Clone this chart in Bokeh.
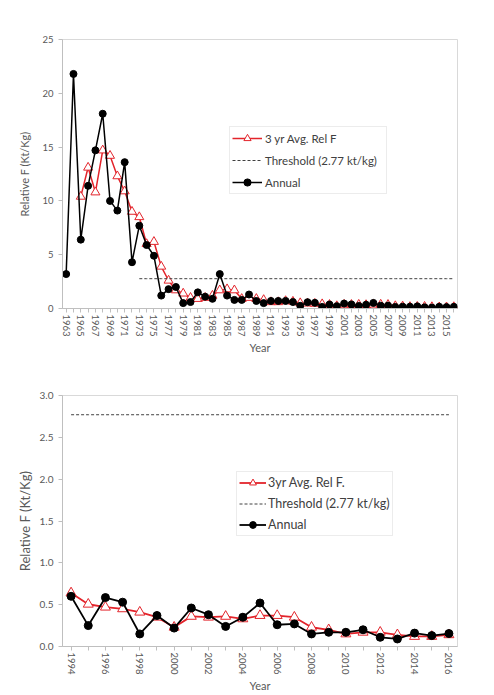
from bokeh.plotting import figure
from bokeh.layouts import column
from bokeh.models import FixedTicker, Legend, LegendItem, Range1d, NumeralTickFormatter
from bokeh.embed import file_html
from bokeh.resources import INLINE

nan = float("nan")

# ---------------- data: full series (top chart) ----------------
years_top = list(range(1963, 2017))
annual_top = [3.2, 21.8, 6.4, 11.4, 14.7, 18.1, 10.0, 9.1, 13.6, 4.3,
              7.7, 5.9, 4.9, 1.2, 1.8, 2.0, 0.5, 0.6, 1.5, 1.1,
              0.9, 3.2, 1.2, 0.8, 0.8, 1.3, 0.7, 0.5, 0.7, 0.7,
              0.7,
              0.60, 0.25, 0.585, 0.53, 0.15, 0.37, 0.22, 0.46, 0.38, 0.24,
              0.35, 0.52, 0.26, 0.27, 0.15, 0.17, 0.17, 0.20, 0.11, 0.09,
              0.16, 0.13, 0.155]
avg_top = [nan, nan, 10.4, 13.1, 10.8, 14.7, 14.2, 12.3, 10.9, 9.0,
           8.5, 6.0, 6.2, 3.9, 2.6, 1.7, 1.4, 1.0, 0.9, 1.0,
           1.2, 1.7, 1.8, 1.7, 0.9, 1.0, 0.9, 0.8, 0.6, 0.6,
           0.7,
           0.64, 0.505, 0.47, 0.45, 0.41, 0.35, 0.23, 0.36, 0.35, 0.36,
           0.33, 0.37, 0.37, 0.35, 0.23, 0.20, 0.15, 0.17, 0.17, 0.14,
           0.12, 0.12, 0.14]
thr_years_top = list(range(1973, 2017))
threshold = 2.77
thr_top = [threshold] * len(thr_years_top)
yticks_top = [0, 5, 10, 15, 20, 25]

# ---------------- data: recent series (bottom chart) ----------------
years_bot = list(range(1994, 2017))
annual_bot = [0.60, 0.25, 0.585, 0.53, 0.15, 0.37, 0.22, 0.46, 0.38, 0.24,
              0.35, 0.52, 0.26, 0.27, 0.15, 0.17, 0.17, 0.20, 0.11, 0.09,
              0.16, 0.13, 0.155]
avg_bot = [0.64, 0.505, 0.47, 0.45, 0.41, 0.35, 0.23, 0.36, 0.35, 0.36,
           0.33, 0.37, 0.37, 0.35, 0.23, 0.20, 0.15, 0.17, 0.17, 0.14,
           0.12, 0.12, 0.14]
thr_bot = [threshold] * len(years_bot)
yticks_bot = [0.0, 0.5, 1.0, 1.5, 2.0, 2.5, 3.0]

RED = "#e3242b"
GRAY_AX = "#bfbfbf"
TXT = "#595959"
FONT = "Lato"


def style(p, tick_fs, label_fs):
    p.grid.visible = False
    p.outline_line_color = "#d9d9d9"
    p.background_fill_color = "white"
    p.border_fill_color = "white"
    for ax in (p.xaxis[0], p.yaxis[0]):
        ax.axis_line_color = GRAY_AX
        ax.major_tick_line_color = GRAY_AX
        ax.minor_tick_line_color = None
        ax.major_tick_in = 0
        ax.major_tick_out = 4
        ax.major_label_text_color = TXT
        ax.major_label_text_font = FONT
        ax.major_label_text_font_size = tick_fs
        ax.axis_label_text_color = TXT
        ax.axis_label_text_font = FONT
        ax.axis_label_text_font_style = "normal"
        ax.axis_label_text_font_size = "11px"
    p.yaxis.axis_label_text_font_size = label_fs
    p.xaxis.major_label_orientation = "vertical"
    p.xaxis.major_label_standoff = 2


def add_series(p, xs, avg, annual, txs, thr, tri_size, circ_size, lw):
    r_avg_l = p.line(xs, avg, line_color=RED, line_width=lw)
    r_avg_s = p.scatter(xs, avg, marker="triangle", size=tri_size,
                        fill_color="white", line_color=RED, line_width=1)
    r_thr = p.line(txs, thr, line_color="#404040", line_width=1, line_dash="3 2")
    r_ann_l = p.line(xs, annual, line_color="black", line_width=lw)
    r_ann_s = p.scatter(xs, annual, marker="circle", size=circ_size,
                        fill_color="black", line_color="black")
    return [r_avg_l, r_avg_s], [r_thr], [r_ann_l, r_ann_s]


def add_legend(p, labels, rends, loc, item_h, spacing, glyph_w, standoff,
               label_w, font_size):
    items = [LegendItem(label=l, renderers=r) for l, r in zip(labels, rends)]
    lg = Legend(items=items, location=loc, orientation="vertical")
    lg.border_line_color = "#d9d9d9"
    lg.background_fill_color = "white"
    lg.background_fill_alpha = 1
    lg.label_text_font = FONT
    lg.label_text_font_size = font_size
    lg.label_text_color = "#404040"
    lg.glyph_width = glyph_w
    lg.glyph_height = item_h
    lg.label_height = item_h
    lg.label_width = label_w
    lg.spacing = spacing
    lg.padding = 2
    lg.margin = 0
    lg.label_standoff = standoff
    p.add_layout(lg)


# ---------------- top chart ----------------
p1 = figure(width=478, height=385, output_backend="svg", toolbar_location=None,
            x_range=Range1d(1962.5, 2016.5), y_range=Range1d(0, 25),
            min_border_left=60, min_border_right=16, min_border_top=39,
            min_border_bottom=77)
style(p1, "9.5px", "11px")
p1.xaxis.ticker = FixedTicker(ticks=years_top)
p1.xaxis.major_label_overrides = {y: (str(y) if (y - 1963) % 2 == 0 else "") for y in years_top}
p1.yaxis.ticker = FixedTicker(ticks=yticks_top)
p1.xaxis.axis_label = "Year"
p1.yaxis.axis_label = "Relative F (Kt/Kg)"
p1.yaxis.axis_label_standoff = 8
p1.xaxis.axis_label_standoff = 1
r1 = add_series(p1, years_top, avg_top, annual_top, thr_years_top, thr_top, 9, 7, 1.5)
add_legend(p1, ["3 yr Avg. Rel F", "Threshold (2.77 kt/kg)", "Annual"], r1,
           (167, 114), 18, 4, 30, 3, 119, "11.5px")

# ---------------- bottom chart ----------------
p2 = figure(width=478, height=310, output_backend="svg", toolbar_location=None,
            x_range=Range1d(1993.5, 2016.5), y_range=Range1d(0, 3),
            min_border_left=62, min_border_right=21, min_border_top=10,
            min_border_bottom=49)
style(p2, "9.5px", "13px")
p2.xaxis.ticker = FixedTicker(ticks=years_bot)
p2.xaxis.major_label_overrides = {y: (str(y) if (y - 1994) % 2 == 0 else "") for y in years_bot}
p2.yaxis.ticker = FixedTicker(ticks=yticks_bot)
p2.yaxis.major_label_text_font_size = "10px"
p2.yaxis.formatter = NumeralTickFormatter(format="0.0")
p2.xaxis.axis_label = "Year"
p2.yaxis.axis_label = "Relative F (Kt/Kg)"
p2.yaxis.axis_label_standoff = 4
p2.xaxis.axis_label_standoff = 1
r2 = add_series(p2, years_bot, avg_bot, annual_bot, years_bot, thr_bot, 10, 8, 1.8)
add_legend(p2, ["3yr Avg. Rel F.", "Threshold (2.77 kt/kg)", "Annual"], r2,
           (174, 110), 17, 4, 27, 2, 122, "12.5px")

layout = column(p1, p2, spacing=0)
open("out.html", "w").write(file_html(layout, INLINE))
